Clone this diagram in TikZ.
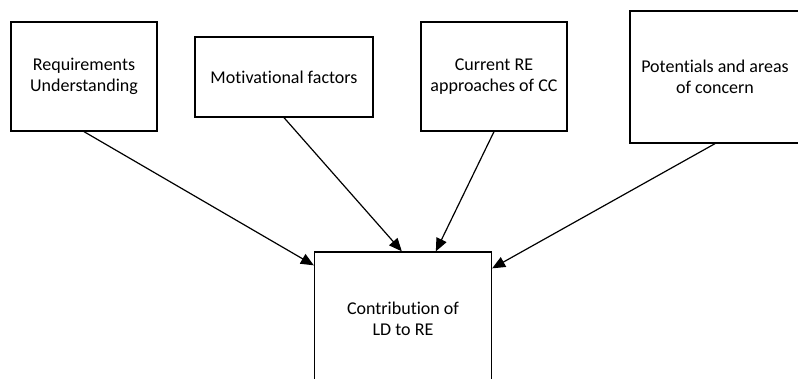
\documentclass[tikz,border=0pt]{standalone}
\usepackage{fontspec}
\setmainfont[Ligatures=NoCommon]{Carlito}
\usetikzlibrary{arrows.meta,calc}
\tikzset{
  box/.style={draw=black, line width=1.3pt, fill=white, align=center,
    inner sep=0pt, font=\fontsize{18}{21.5}\selectfont},
  link/.style={draw=black, line width=1.2pt,
    -{Triangle[length=13pt,width=11pt]}}
}
\begin{document}
\begin{tikzpicture}[x=1pt,y=-1pt]
  \useasboundingbox (0,0) rectangle (798,379);
  \clip (0,0) rectangle (798,379);
  \fill[white] (0,0) rectangle (798,379);

  % source boxes
  \node[box, minimum width=146pt, minimum height=109pt] (ru) at (84,76.5)
    {Requirements\\Understanding};
  \node[box, minimum width=178pt, minimum height=80pt] (mf) at (284,77)
    {Motivational factors};
  \node[box, minimum width=146pt, minimum height=109pt] (cr) at (494,76.5)
    {Current RE\\approaches of CC};
  \node[box, minimum width=170pt, minimum height=132pt] (pc) at (715,77)
    {Potentials and areas\\of concern};

  % target box
  \node[box, minimum width=177pt, minimum height=134pt] (ld) at (403,319)
    {Contribution of\\LD to RE};

  % connectors
  \draw[link] (ru.south) -- ($(ld.north west)+(0,14)$);
  \draw[link] (mf.south) -- ($(ld.north west)+(88,0)$);
  \draw[link] (cr.south) -- ($(ld.north west)+(122,0)$);
  \draw[link] (pc.south) -- ($(ld.north east)+(0,17)$);
\end{tikzpicture}
\end{document}
